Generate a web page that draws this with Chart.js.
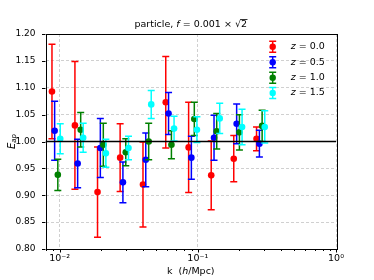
<!DOCTYPE html>
<html>
<head>
<meta charset="utf-8">
<script src="https://cdn.jsdelivr.net/npm/chart.js@4.4.1/dist/chart.umd.min.js"></script>
<style>
  html, body { margin: 0; padding: 0; background: #fff; }
</style>
</head>
<body>
<canvas id="eap-chart" width="374" height="280"></canvas>
<script>
const FONT = '"DejaVu Sans", sans-serif';

// redshift labels + colours (matplotlib r, b, g, cyan)
const zLabels = ['0.0', '0.5', '1.0', '1.5'];
const zColors = ['#ff0000', '#0000ff', '#008000', '#00ffff'];

// k values (h/Mpc), each series slightly shifted
const kZ00 = [0.0088, 0.0129, 0.0188, 0.0274, 0.0401, 0.0586, 0.0858, 0.125, 0.182, 0.266];
const kZ05 = [0.0092, 0.0135, 0.0197, 0.0287, 0.0420, 0.0614, 0.0898, 0.131, 0.191, 0.279];
const kZ10 = [0.0097, 0.0142, 0.0207, 0.0301, 0.0441, 0.0644, 0.0943, 0.137, 0.200, 0.292];
const kZ15 = [0.0101, 0.0148, 0.0216, 0.0315, 0.0460, 0.0673, 0.0985, 0.144, 0.209, 0.305];

// E_ap values
const eapZ00 = [1.093, 1.030, 0.906, 0.970, 0.920, 1.073, 0.989, 0.937, 0.968, 1.005];
const eapZ05 = [1.020, 0.959, 0.988, 0.924, 0.966, 1.052, 0.970, 1.007, 1.033, 0.996];
const eapZ10 = [0.938, 1.022, 0.994, 0.980, 1.000, 0.994, 1.042, 1.019, 1.017, 1.029];
const eapZ15 = [1.005, 1.007, 0.978, 0.988, 1.069, 1.024, 1.022, 1.043, 1.027, 1.027];

// symmetric errors
const errZ00 = [0.088, 0.119, 0.084, 0.063, 0.079, 0.085, 0.084, 0.064, 0.043, 0.022];
const errZ05 = [0.055, 0.045, 0.055, 0.038, 0.050, 0.039, 0.040, 0.042, 0.037, 0.025];
const errZ10 = [0.029, 0.032, 0.040, 0.025, 0.034, 0.026, 0.031, 0.033, 0.033, 0.029];
const errZ15 = [0.028, 0.027, 0.026, 0.022, 0.026, 0.023, 0.024, 0.028, 0.033, 0.030];

const xTickValues = [0.01, 0.1, 1];
const xTickLabels = ['10\u207B\u00B2', '10\u207B\u00B9', '10\u2070'];
const xRange = [0.0079, 1];
const yRange = [0.80, 1.20];
const yStep = 0.05;
const refLevel = 1.0;

const kAll = [kZ00, kZ05, kZ10, kZ15];
const eapAll = [eapZ00, eapZ05, eapZ10, eapZ15];
const errAll = [errZ00, errZ05, errZ10, errZ15];

const CAP = 3.5;
const GRID = '#c4c4c4';

function drawRuns(ctx, runs, x, y, align) {
  let total = 0;
  runs.forEach(r => { ctx.font = r.font; total += ctx.measureText(r.text).width; });
  let cx = align === 'center' ? x - total / 2 : x;
  runs.forEach(r => {
    ctx.font = r.font;
    ctx.fillText(r.text, cx, y + (r.dy || 0));
    r.x0 = cx;
    cx += ctx.measureText(r.text).width;
    r.x1 = cx;
  });
  return runs;
}

const errorBars = {
  id: 'errorBars',
  beforeDatasetDraw(chart, args) {
    const ds = chart.data.datasets[args.index];
    if (!ds.errors) return;
    const ctx = chart.ctx;
    const xs = chart.scales.x, ys = chart.scales.y;
    ctx.save();
    ctx.strokeStyle = ds.backgroundColor;
    ctx.lineWidth = 1.5;
    ds.data.forEach((p, i) => {
      const px = xs.getPixelForValue(p.x);
      const top = ys.getPixelForValue(p.y + ds.errors[i]);
      const bot = ys.getPixelForValue(p.y - ds.errors[i]);
      ctx.beginPath();
      ctx.moveTo(px, top); ctx.lineTo(px, bot);
      ctx.moveTo(px - CAP, top); ctx.lineTo(px + CAP, top);
      ctx.moveTo(px - CAP, bot); ctx.lineTo(px + CAP, bot);
      ctx.stroke();
    });
    ctx.restore();
  }
};

const decorations = {
  id: 'decorations',
  afterDraw(chart) {
    const ctx = chart.ctx;
    const a = chart.chartArea;
    const xs = chart.scales.x, ys = chart.scales.y;
    ctx.save();

    // frame
    ctx.strokeStyle = '#000';
    ctx.lineWidth = 1;
    ctx.strokeRect(Math.round(a.left) + 0.5, Math.round(a.top) + 0.5,
      Math.round(a.right - a.left), Math.round(a.bottom - a.top));

    // y ticks
    ctx.beginPath();
    ys.ticks.forEach(t => {
      const py = Math.round(ys.getPixelForValue(t.value)) + 0.5;
      ctx.moveTo(a.left - 3.5, py); ctx.lineTo(a.left, py);
    });
    // x major + minor ticks
    for (let d = -3; d <= 0; d++) {
      for (let m = 1; m <= 9; m++) {
        const v = m * Math.pow(10, d);
        if (v < xs.min * 0.999 || v > xs.max * 1.001) continue;
        const px = Math.round(xs.getPixelForValue(v)) + 0.5;
        const len = m === 1 ? 3.5 : 2;
        ctx.moveTo(px, a.bottom); ctx.lineTo(px, a.bottom + len);
      }
    }
    ctx.stroke();

    ctx.fillStyle = '#000';
    ctx.textBaseline = 'middle';

    // title
    const cx = (a.left + a.right) / 2;
    const nf = '9.5px ' + FONT, itf = 'italic 9.5px ' + FONT;
    const runs = drawRuns(ctx, [
      { text: 'particle, ', font: nf },
      { text: 'f', font: itf },
      { text: ' = 0.001 \u00D7 ', font: nf },
      { text: '\u221A', font: nf },
      { text: '2', font: nf }
    ], cx, 25, 'center');
    const two = runs[4];
    ctx.beginPath();
    ctx.lineWidth = 0.8;
    ctx.moveTo(two.x0 - 0.5, 19.5); ctx.lineTo(two.x1 + 0.5, 19.5);
    ctx.stroke();

    // x label
    drawRuns(ctx, [
      { text: 'k  (', font: nf },
      { text: 'h', font: itf },
      { text: '/Mpc)', font: nf }
    ], cx, 272, 'center');

    // y label
    ctx.save();
    ctx.translate(12, (a.top + a.bottom) / 2);
    ctx.rotate(-Math.PI / 2);
    drawRuns(ctx, [
      { text: 'E', font: 'italic 10px ' + FONT },
      { text: 'ap', font: 'italic 7px ' + FONT, dy: 2.5 }
    ], 0, 0, 'center');
    ctx.restore();

    // legend
    const rowY = [46.7, 62.3, 77.7, 93];
    zLabels.forEach((lab, i) => {
      const hx = 272.7, hy = rowY[i];
      ctx.strokeStyle = zColors[i];
      ctx.fillStyle = zColors[i];
      ctx.lineWidth = 1.5;
      ctx.beginPath();
      ctx.moveTo(hx, hy - 5.5); ctx.lineTo(hx, hy + 5.5);
      ctx.moveTo(hx - CAP, hy - 5.5); ctx.lineTo(hx + CAP, hy - 5.5);
      ctx.moveTo(hx - CAP, hy + 5.5); ctx.lineTo(hx + CAP, hy + 5.5);
      ctx.stroke();
      ctx.beginPath();
      ctx.arc(hx, hy, 3.2, 0, Math.PI * 2);
      ctx.fill();
      ctx.fillStyle = '#000';
      drawRuns(ctx, [
        { text: 'z', font: itf },
        { text: ' = ' + lab, font: nf }
      ], 290.7, hy, 'left');
    });

    ctx.restore();
  }
};

const datasets = zLabels.map((lab, s) => ({
  label: 'z = ' + lab,
  type: 'scatter',
  data: kAll[s].map((k, i) => ({ x: k, y: eapAll[s][i] })),
  errors: errAll[s],
  backgroundColor: zColors[s],
  borderWidth: 0,
  pointRadius: 3.3,
  pointHoverRadius: 3.3,
  order: 3 - s + 1
}));

datasets.push({
  label: 'ref',
  type: 'line',
  data: [{ x: xRange[0], y: refLevel }, { x: xRange[1], y: refLevel }],
  borderColor: '#000',
  borderWidth: 1.5,
  pointRadius: 0,
  order: 0
});

new Chart(document.getElementById('eap-chart'), {
  type: 'scatter',
  data: { datasets },
  plugins: [errorBars, decorations],
  options: {
    responsive: false,
    animation: false,
    devicePixelRatio: 1,
    layout: { padding: { top: 34, right: 38, left: 0, bottom: 0 } },
    plugins: {
      legend: { display: false },
      tooltip: { enabled: false }
    },
    scales: {
      x: {
        type: 'logarithmic',
        bounds: 'data',
        min: xRange[0],
        max: xRange[1],
        afterFit: s => { s.height = 31; },
        afterBuildTicks: s => { s.ticks = xTickValues.map(v => ({ value: v })); },
        ticks: {
          autoSkip: false,
          maxRotation: 0,
          padding: 4,
          color: '#000',
          font: { family: FONT, size: 9.5 },
          callback: v => xTickLabels[xTickValues.indexOf(v)] || ''
        },
        grid: { color: GRID, lineWidth: 0.8, drawTicks: false },
        border: { display: false, dash: [3, 2] }
      },
      y: {
        min: yRange[0],
        max: yRange[1],
        afterFit: s => { s.width = 45.5; },
        ticks: {
          stepSize: yStep,
          padding: 10,
          color: '#000',
          font: { family: FONT, size: 9 },
          callback: v => v.toFixed(2)
        },
        grid: { color: GRID, lineWidth: 0.8, drawTicks: false },
        border: { display: false, dash: [3, 2] }
      }
    }
  }
});
</script>
</body>
</html>
